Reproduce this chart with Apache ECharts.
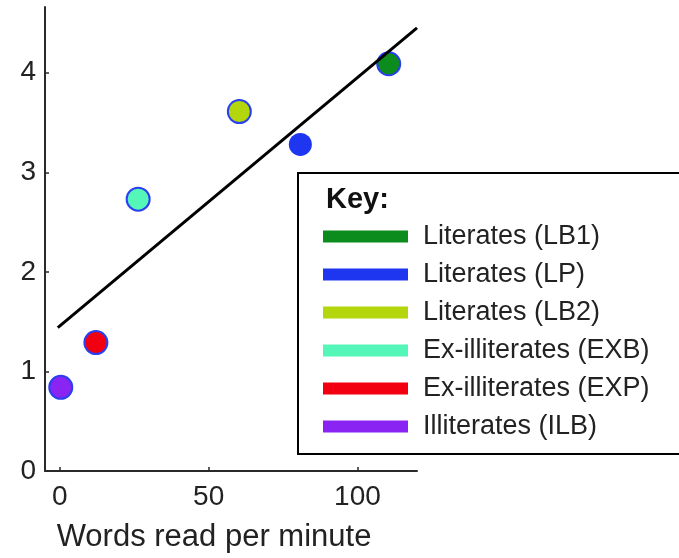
<!DOCTYPE html>
<html>
<head>
<meta charset="utf-8">
<script src="https://cdn.jsdelivr.net/npm/echarts@6/dist/echarts.min.js"></script>
<style>
  html, body { margin: 0; padding: 0; background: #fff; }
  #chart { width: 679px; height: 558px; }
</style>
</head>
<body>
<div id="chart"></div>
<script>
// Reading speed (words per minute) against the measured score for each group
const groupNames = [
  'Literates (LB1)',
  'Literates (LP)',
  'Literates (LB2)',
  'Ex-illiterates (EXB)',
  'Ex-illiterates (EXP)',
  'Illiterates (ILB)'
];
const groupColors = ['#0c8c1c', '#1e36f0', '#b4d60c', '#55f7b8', '#f20012', '#8a24f2'];
const wordsPerMinute = [110.5, 80.8, 60.3, 26.3, 12.1, 0.3];
const scores = [4.09, 3.28, 3.61, 2.73, 1.29, 0.84];

// Fitted regression line, given by its two end points
const fitX = [-0.7, 120];
const fitY = [1.44, 4.45];

const xTicks = [0, 50, 100];
const yTicks = [0, 1, 2, 3, 4];

const FONT = 'Liberation Sans';
const AXIS_COLOR = '#2a2a2a';

const series = groupNames.map((name, i) => ({
  name: name,
  type: 'scatter',
  data: [[wordsPerMinute[i], scores[i]]],
  symbol: 'circle',
  symbolSize: 23,
  itemStyle: {
    color: groupColors[i],
    borderColor: '#2a3ff0',
    borderWidth: i === 1 ? 0 : 2,
    opacity: 1
  },
  z: 2
}));

series.push({
  name: 'fit',
  type: 'line',
  data: fitX.map((x, i) => [x, fitY[i]]),
  symbol: 'none',
  lineStyle: { color: '#000', width: 3 },
  z: 5,
  silent: true
});

const chart = echarts.init(document.getElementById('chart'), null, { renderer: 'canvas' });
chart.setOption({
  animation: false,
  backgroundColor: '#fff',
  grid: { left: 45, top: 7, width: 372, height: 464, containLabel: false },
  xAxis: {
    type: 'value',
    min: -5,
    max: 120,
    name: 'Words read per minute',
    nameLocation: 'middle',
    nameGap: 51,
    nameTextStyle: { fontFamily: FONT, fontSize: 31, color: '#222', padding: [0, 34, 0, 0] },
    splitLine: { show: false },
    axisLine: { onZero: false, lineStyle: { color: AXIS_COLOR, width: 2 } },
    axisTick: { inside: true, length: 4, customValues: xTicks, lineStyle: { color: AXIS_COLOR, width: 1.5 } },
    axisLabel: { customValues: xTicks, margin: 12, fontFamily: FONT, fontSize: 28, color: '#222' }
  },
  yAxis: {
    type: 'value',
    min: 0,
    max: 4.66,
    splitLine: { show: false },
    axisLine: { onZero: false, lineStyle: { color: AXIS_COLOR, width: 2 } },
    axisTick: { inside: true, length: 4, customValues: yTicks, lineStyle: { color: AXIS_COLOR, width: 1.5 } },
    axisLabel: { customValues: yTicks, margin: 9, fontFamily: FONT, fontSize: 28, color: '#222' }
  },
  legend: {
    data: groupNames,
    orient: 'vertical',
    left: 298,
    top: 173,
    padding: [50, 240, 14, 25],
    borderColor: '#000',
    borderWidth: 2,
    backgroundColor: '#fff',
    icon: 'rect',
    itemWidth: 85,
    itemHeight: 12,
    itemGap: 11,
    itemStyle: { borderWidth: 0 },
    selectedMode: false,
    textStyle: {
      fontFamily: FONT,
      fontSize: 27,
      lineHeight: 26,
      color: '#222',
      padding: [0, 0, 0, 10]
    }
  },
  graphic: [{
    type: 'text',
    left: 326,
    top: 185,
    z: 100,
    style: {
      text: 'Key:',
      fontFamily: FONT,
      fontSize: 29,
      fontWeight: 'bold',
      fill: '#111'
    }
  }],
  series: series
});
</script>
</body>
</html>
